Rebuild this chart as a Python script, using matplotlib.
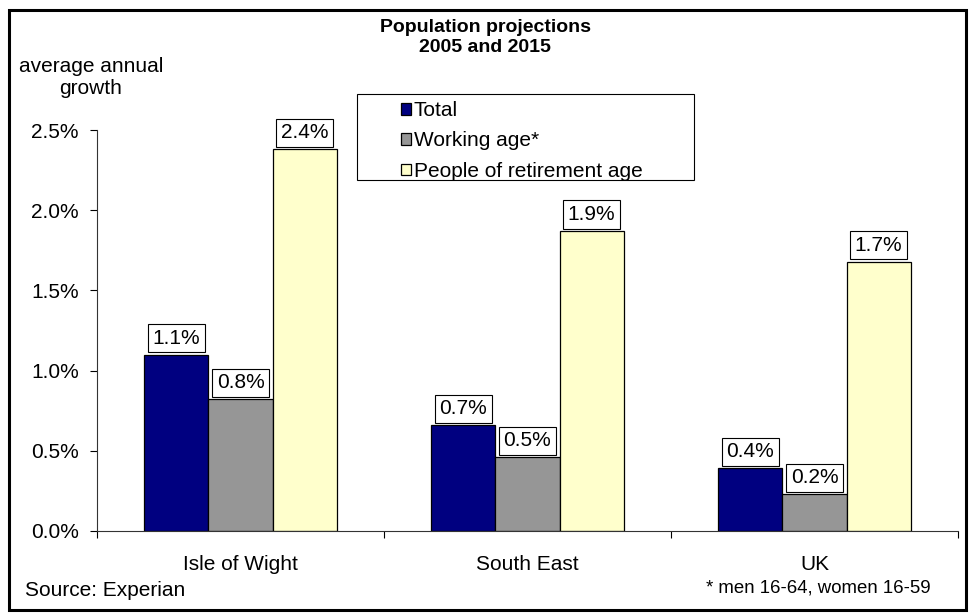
import matplotlib
matplotlib.use("Agg")
import matplotlib.pyplot as plt
import matplotlib.patches as patches
import numpy as np

plt.rcParams['font.family'] = ['Liberation Sans', 'DejaVu Sans']

regions = ["Isle of Wight", "South East", "UK"]
series_names = ["Total", "Working age*", "People of retirement age"]
total = [1.10, 0.66, 0.39]
working = [0.82, 0.46, 0.23]
retirement = [2.38, 1.87, 1.68]
series_colors = ["#000080", "#969696", "#FFFFCC"]
y_ticks = [0.0, 0.5, 1.0, 1.5, 2.0, 2.5]

W, H = 975, 613
fig = plt.figure(figsize=(W / 100, H / 100), dpi=100)
fig.patch.set_facecolor("white")

def box(x0, y0, x1, y1, lw):
    # rectangle given in image pixels (y down)
    fig.add_artist(patches.Rectangle((x0 / W, 1 - y1 / H), (x1 - x0) / W, (y1 - y0) / H,
                                     transform=fig.transFigure, fill=False,
                                     edgecolor="black", linewidth=lw))

# outer chart border
box(9, 10, 966, 610, 2.2)

ax = fig.add_axes([97 / W, (H - 531) / H, 861 / W, 401 / H])
x = np.arange(len(regions))
bw = 0.223
fs = 15

for k, (vals, name, col) in enumerate(zip([total, working, retirement], series_names, series_colors)):
    pos = x + (k - 1) * bw
    ax.bar(pos, vals, width=bw, color=col, edgecolor="black", linewidth=0.9, label=name, zorder=2)
    for px, v in zip(pos, vals):
        ax.annotate(f"{v:.1f}%", (px, v), xytext=(0, 7), textcoords="offset pixels",
                    ha="center", va="bottom", fontsize=fs,
                    bbox=dict(boxstyle="square,pad=0.22", facecolor="white", edgecolor="black", linewidth=0.8))

ax.set_xlim(-0.5, 2.5)
ax.set_ylim(0, 2.5)
ax.set_yticks(y_ticks)
ax.set_yticklabels([f"{t:.1f}%" for t in y_ticks], fontsize=fs)
ax.tick_params(axis="y", direction="out", length=5, width=0.8, pad=8)
ax.set_xticks(x)
ax.set_xticklabels(regions, fontsize=fs)
ax.set_xticks([-0.5, 0.5, 1.5, 2.5], minor=True)
ax.tick_params(axis="x", which="major", length=0, pad=17)
ax.tick_params(axis="x", which="minor", direction="out", length=5, width=0.8)
for s in ["top", "right"]:
    ax.spines[s].set_visible(False)
for s in ["left", "bottom"]:
    ax.spines[s].set_linewidth(0.8)
    ax.spines[s].set_color("#333333")

# legend: entries without frame, box drawn separately
ax.legend(loc="upper left", bbox_to_anchor=(401 / W, 1 - 101 / H), bbox_transform=fig.transFigure,
          fontsize=fs, frameon=False, handlelength=0.5, handleheight=0.5,
          handletextpad=0.12, labelspacing=0.55, borderpad=0, borderaxespad=0)
box(357, 94, 694, 180, 0.8)

fig.text(485 / W, 1 - 27 / H, "Population projections", ha="center", va="center", fontsize=14, fontweight="bold")
fig.text(485 / W, 1 - 47 / H, "2005 and 2015", ha="center", va="center", fontsize=14, fontweight="bold")
fig.text(91 / W, 1 - 66 / H, "average annual", ha="center", va="center", fontsize=fs)
fig.text(91 / W, 1 - 89 / H, "growth", ha="center", va="center", fontsize=fs)
fig.text(25 / W, 1 - 590 / H, "Source: Experian", ha="left", va="center", fontsize=fs)
fig.text(931 / W, 1 - 588 / H, "* men 16-64, women 16-59", ha="right", va="center", fontsize=13.4)

fig.savefig("out.png", dpi=100)
